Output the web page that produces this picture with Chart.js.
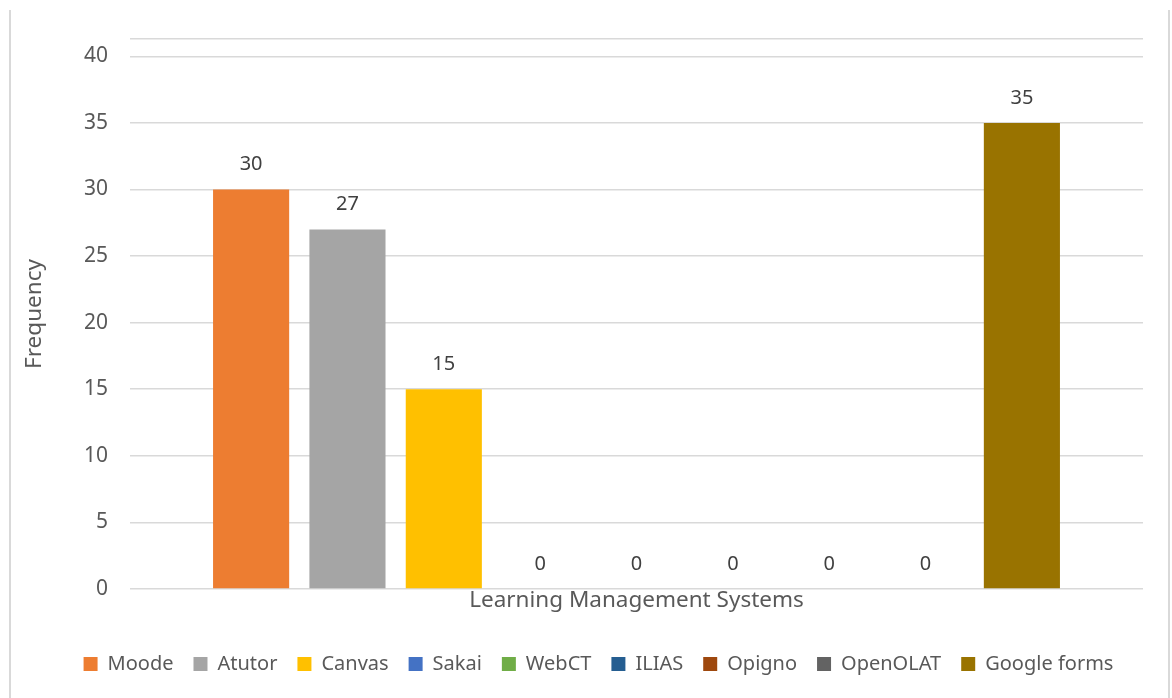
<!DOCTYPE html>
<html>
<head>
<meta charset="utf-8">
<title>Learning Management Systems</title>
<script src="https://cdn.jsdelivr.net/npm/chart.js@4.4.1/dist/chart.umd.min.js"></script>
<style>
  html, body { margin: 0; padding: 0; background: #ffffff; }
  #wrap { position: relative; width: 1172px; height: 698px; }
</style>
</head>
<body>
<div id="wrap"><canvas id="barChart1" width="1172" height="698"></canvas></div>
<script>
// data collected
var systems = ["Moode", "Atutor", "Canvas", "Sakai", "WebCT", "ILIAS", "Opigno", "OpenOLAT", "Google forms"]
var frequency = [30, 27, 15, 0, 0, 0, 0, 0, 35]
var colors = ["#ED7D31", "#A5A5A5", "#FFC000", "#4472C4", "#70AD47", "#255E91", "#9E480E", "#636363", "#997300"]
var yTicks = [0, 5, 10, 15, 20, 25, 30, 35, 40]
var xTitle = "Learning Management Systems"
var yTitle = "Frequency"

var textColor = "#595959"
var fontName = "'Noto Sans', 'Open Sans', sans-serif"

// one dataset per system, all in a single category
var datasets = []
for (var i = 0; i < systems.length; i++) {
    datasets.push({
        label: systems[i],
        data: [frequency[i]],
        backgroundColor: colors[i],
        borderWidth: 0,
        categoryPercentage: 0.856,
        barPercentage: 0.79
    })
}

// value above each bar
var valueLabels = {
    id: "valueLabels",
    afterDatasetsDraw: function(chart) {
        var ctx = chart.ctx
        ctx.save()
        ctx.font = "20px " + fontName
        ctx.fillStyle = "#404040"
        ctx.textAlign = "center"
        ctx.textBaseline = "middle"
        chart.data.datasets.forEach(function(ds, i) {
            var meta = chart.getDatasetMeta(i)
            meta.data.forEach(function(bar, j) {
                ctx.fillText(String(ds.data[j]), bar.x, bar.y - 25)
            })
        })
        ctx.restore()
    }
}

// light frame lines at the sides, legend nudged to the right
var frame = {
    id: "frame",
    afterLayout: function(chart) {
        chart.legend.left += 20
        chart.legend.right += 20
    },
    beforeDraw: function(chart) {
        var ctx = chart.ctx
        ctx.save()
        ctx.strokeStyle = "#d9d9d9"
        ctx.lineWidth = 2
        ctx.beginPath()
        ctx.moveTo(10, 10)
        ctx.lineTo(10, 698)
        ctx.moveTo(1169, 10)
        ctx.lineTo(1169, 698)
        ctx.stroke()
        ctx.restore()
    }
}

var myChart = document.getElementById("barChart1").getContext("2d")
var chart = new Chart(myChart, {
    type: "bar",
    data: {
        labels: [""],
        datasets: datasets
    },
    plugins: [frame, valueLabels],
    options: {
        responsive: false,
        animation: false,
        layout: {
            padding: { left: 14, right: 29, top: 39, bottom: 14 }
        },
        plugins: {
            legend: {
                display: true,
                position: "bottom",
                labels: {
                    boxWidth: 14,
                    boxHeight: 14,
                    padding: 20,
                    color: textColor,
                    font: { family: fontName, size: 20 }
                }
            },
            tooltip: { enabled: false }
        },
        scales: {
            x: {
                grid: { display: false, drawTicks: false },
                border: { display: false },
                ticks: { display: false },
                title: {
                    display: true,
                    text: xTitle,
                    color: textColor,
                    font: { family: fontName, size: 22.5, lineHeight: 1 },
                    padding: { top: 0, bottom: 22.5 }
                }
            },
            y: {
                min: 0,
                max: 41.3,
                afterFit: function(scale) { scale.width = 116 },
                afterBuildTicks: function(scale) {
                    var t = yTicks.map(function(v) { return { value: v } })
                    t.push({ value: 41.3 })
                    scale.ticks = t
                },
                grid: { color: "#d9d9d9", lineWidth: 1.5, drawTicks: false },
                border: { display: false },
                ticks: {
                    padding: 22,
                    color: textColor,
                    font: { family: fontName, size: 21 },
                    callback: function(v) { return yTicks.indexOf(v) >= 0 ? v : "" }
                },
                title: {
                    display: true,
                    text: yTitle,
                    color: textColor,
                    font: { family: fontName, size: 22.5, lineHeight: 1.2 },
                    padding: { top: 7.5, bottom: 0 }
                }
            }
        }
    }
})
</script>
</body>
</html>
